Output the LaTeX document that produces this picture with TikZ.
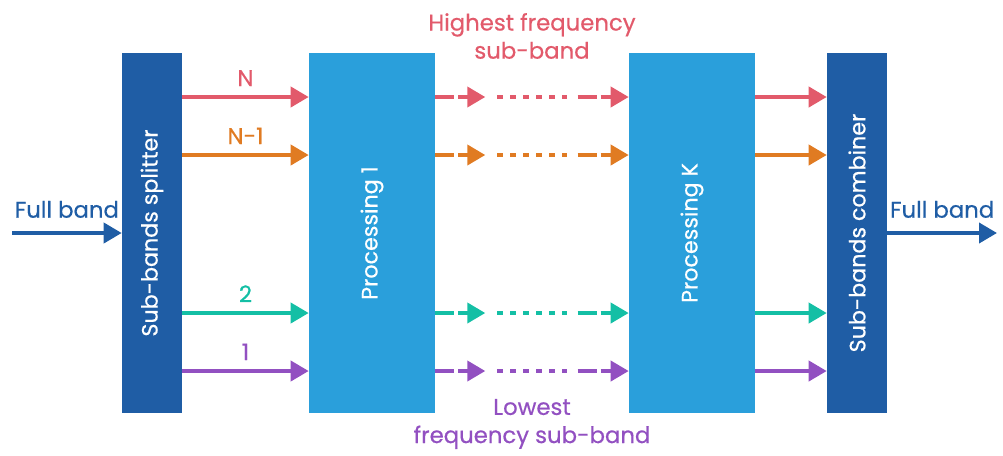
\documentclass[tikz,border=0pt]{standalone}
\usepackage{fontspec}
\setmainfont{Poppins}[FakeBold=0.5]
\usetikzlibrary{arrows.meta,positioning}
\definecolor{darkband}{HTML}{1F5DA5}
\definecolor{procblue}{HTML}{2A9FDB}
\definecolor{bandN}{HTML}{E25A6B}
\definecolor{bandNm}{HTML}{E07B22}
\definecolor{bandTwo}{HTML}{14BFA5}
\definecolor{bandOne}{HTML}{9250C1}
\tikzstyle{edgebox}=[draw=none, fill=darkband, minimum width=1.5cm, minimum height=9cm, inner sep=0pt]
\tikzstyle{procbox}=[draw=none, fill=procblue, minimum width=3.15cm, minimum height=9cm, inner sep=0pt]
\tikzstyle{boxtext}=[rotate=90, text=white, font=\fontsize{15.8}{18}\selectfont]
\tikzstyle{bandlabel}=[font=\fontsize{16.2}{20}\selectfont, align=center]
\tikzstyle{bandarrow}=[line width=2.8pt, -{Triangle[length=12.8pt,width=14.2pt]}]
\tikzstyle{dasharrow}=[bandarrow, dash pattern=on 13.5pt off 2.8pt]
\tikzstyle{dotline}=[line width=2.8pt, dash pattern=on 4.25pt off 5pt]

\begin{document}
\begin{tikzpicture}[x=0.025cm, y=-0.025cm]
    \useasboundingbox (0,0) rectangle (1003,455);

    \node[edgebox] (split) at (152, 233) {};
    \node[procbox] (p1) at (372, 233) {};
    \node[procbox] (pK) at (692, 233) {};
    \node[edgebox] (comb) at (857, 233) {};

    \node[boxtext] at (split) {Sub-bands splitter};
    \node[boxtext] at (p1) {Processing 1};
    \node[boxtext] at (pK) {Processing K};
    \node[boxtext] at (comb) {Sub-bands combiner};

    % rows of the sub-bands
    \coordinate (rN) at (0, 97);
    \coordinate (rNm) at (0, 155);
    \coordinate (rTwo) at (0, 313);
    \coordinate (rOne) at (0, 371);
    \coordinate (inStart) at (12, 233);
    \coordinate (outEnd) at (997, 233);

    % Full band in and out
    \draw[bandarrow, darkband] (inStart) -- node[bandlabel, midway, above=6pt, text=darkband] {Full band} (split.west);
    \draw[bandarrow, darkband] (comb.east) -- node[bandlabel, midway, above=6pt, text=darkband] {Full band} (outEnd);

    % splitter to processing 1
    \draw[bandarrow, bandN] (split.east |- rN) -- node[bandlabel, midway, above=3pt] {N} (p1.west |- rN);
    \draw[bandarrow, bandNm] (split.east |- rNm) -- node[bandlabel, midway, above=3pt] {N-1} (p1.west |- rNm);
    \draw[bandarrow, bandTwo] (split.east |- rTwo) -- node[bandlabel, midway, above=3pt] {2} (p1.west |- rTwo);
    \draw[bandarrow, bandOne] (split.east |- rOne) -- node[bandlabel, midway, above=3pt] {1} (p1.west |- rOne);

    % processing 1 to processing K
    \draw[dasharrow, bandN] (p1.east |- rN) -- ++(50, 0);
    \draw[dotline, bandN] (p1.east |- rN) ++(62, 0) -- ++(70, 0);
    \draw[dasharrow, bandN] (pK.west |- rN) ++(-51, 0) -- (pK.west |- rN);
    \draw[dasharrow, bandNm] (p1.east |- rNm) -- ++(50, 0);
    \draw[dotline, bandNm] (p1.east |- rNm) ++(62, 0) -- ++(70, 0);
    \draw[dasharrow, bandNm] (pK.west |- rNm) ++(-51, 0) -- (pK.west |- rNm);
    \draw[dasharrow, bandTwo] (p1.east |- rTwo) -- ++(50, 0);
    \draw[dotline, bandTwo] (p1.east |- rTwo) ++(62, 0) -- ++(70, 0);
    \draw[dasharrow, bandTwo] (pK.west |- rTwo) ++(-51, 0) -- (pK.west |- rTwo);
    \draw[dasharrow, bandOne] (p1.east |- rOne) -- ++(50, 0);
    \draw[dotline, bandOne] (p1.east |- rOne) ++(62, 0) -- ++(70, 0);
    \draw[dasharrow, bandOne] (pK.west |- rOne) ++(-51, 0) -- (pK.west |- rOne);

    % processing K to combiner
    \draw[bandarrow, bandN] (pK.east |- rN) -- (comb.west |- rN);
    \draw[bandarrow, bandNm] (pK.east |- rNm) -- (comb.west |- rNm);
    \draw[bandarrow, bandTwo] (pK.east |- rTwo) -- (comb.west |- rTwo);
    \draw[bandarrow, bandOne] (pK.east |- rOne) -- (comb.west |- rOne);

    \node[bandlabel, text=bandN] (hiLabel) at (532, 36) {Highest frequency\\sub-band};
    \node[bandlabel, text=bandOne] (lowLabel) at (532, 424) {Lowest\\frequency sub-band};
\end{tikzpicture}
\end{document}
